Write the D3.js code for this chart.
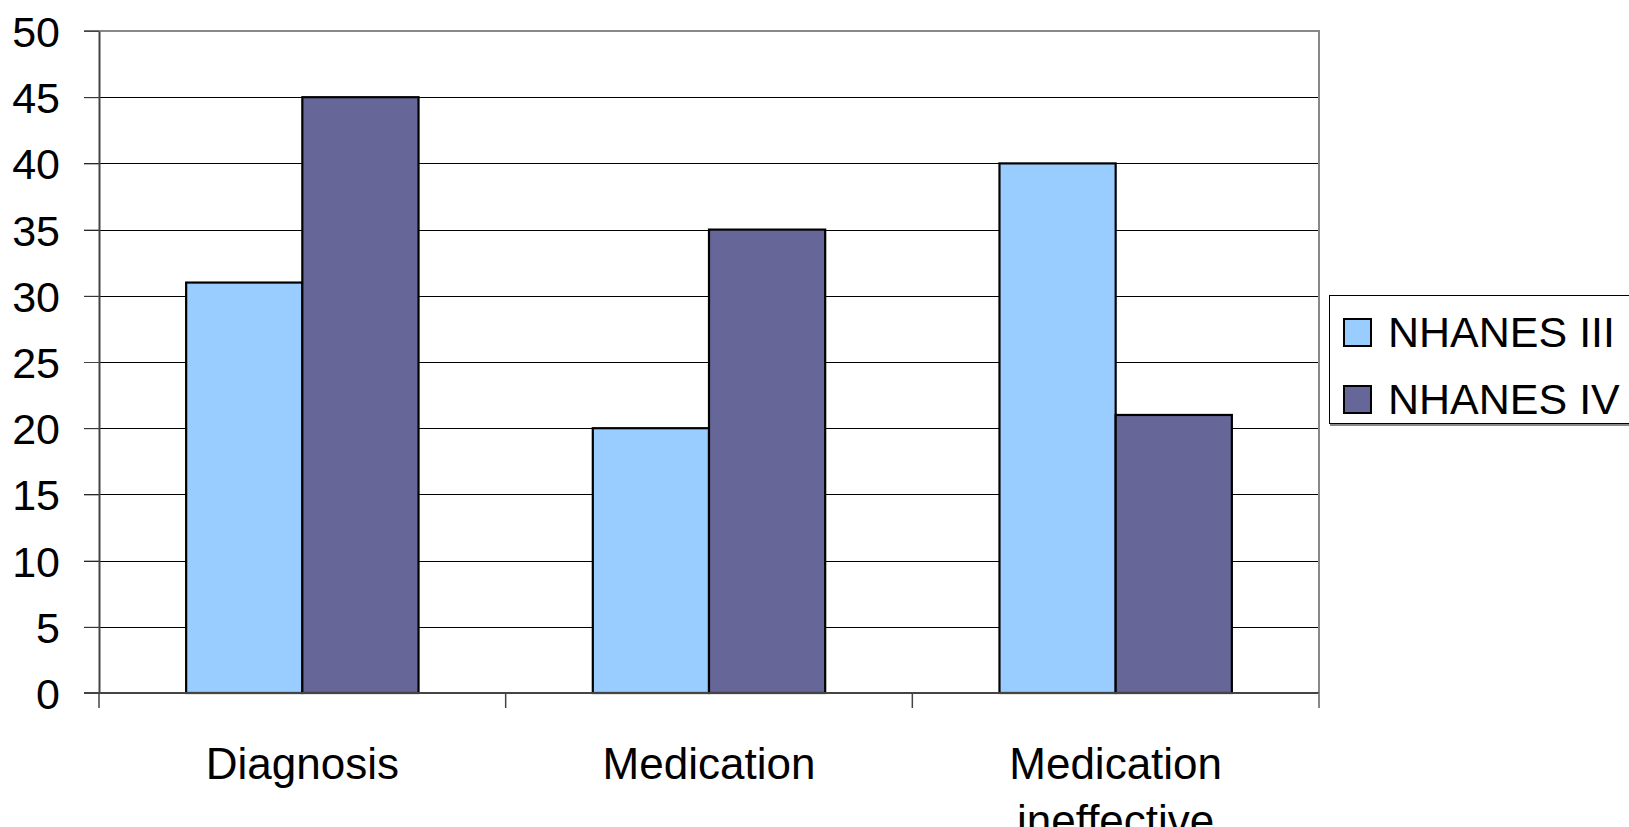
<!DOCTYPE html>
<html>
<head>
<meta charset="utf-8">
<script src="https://cdn.jsdelivr.net/npm/d3@7"></script>
<style>
  html, body { margin: 0; padding: 0; background: #fff; overflow: hidden; }
  svg { display: block; font-family: "Liberation Sans", Arial, sans-serif; }
</style>
</head>
<body>
<svg id="chart" width="1629" height="827"></svg>
<script>
// Chart data
const categories = [["Diagnosis"], ["Medication"], ["Medication", "ineffective"]];
const seriesNames = ["NHANES III", "NHANES IV"];
const seriesColors = ["#99CCFF", "#666699"];
const nhanes3 = [31, 20, 40];
const nhanes4 = [45, 35, 21];
const yTicks = [0, 5, 10, 15, 20, 25, 30, 35, 40, 45, 50];

const seriesValues = [nhanes3, nhanes4];
const svg = d3.select("#chart");

const plot = { left: 99, right: 1319, top: 31, bottom: 693 };

const x = d3.scaleBand()
  .domain(d3.range(categories.length))
  .range([plot.left, plot.right])
  .padding(0);

const xInner = d3.scaleBand()
  .domain(d3.range(seriesNames.length))
  .range([0, x.bandwidth()])
  .paddingInner(0)
  .paddingOuter(0.75);

const y = d3.scaleLinear().domain([0, 50]).range([plot.bottom, plot.top]);

// Horizontal gridlines with ticks extending left of the axis
svg.append("g")
  .selectAll("line")
  .data(yTicks.filter(t => t > 0 && t < 50))
  .join("line")
  .attr("x1", plot.left - 15)
  .attr("x2", plot.right)
  .attr("y1", d => Math.round(y(d)) + 0.5)
  .attr("y2", d => Math.round(y(d)) + 0.5)
  .attr("stroke", "#000")
  .attr("stroke-width", 1);

// Top and right plot frame
svg.append("line")
  .attr("x1", plot.left).attr("x2", plot.right + 1)
  .attr("y1", plot.top).attr("y2", plot.top)
  .attr("stroke", "#888").attr("stroke-width", 2);
svg.append("line")
  .attr("x1", plot.right).attr("x2", plot.right)
  .attr("y1", plot.top).attr("y2", plot.bottom + 15)
  .attr("stroke", "#888").attr("stroke-width", 2);
// tick for 50
svg.append("line")
  .attr("x1", plot.left - 15).attr("x2", plot.left)
  .attr("y1", plot.top).attr("y2", plot.top)
  .attr("stroke", "#444").attr("stroke-width", 1.5);

// Bars
const groups = svg.append("g")
  .selectAll("g")
  .data(categories.map((c, i) => i))
  .join("g")
  .attr("transform", i => `translate(${x(i)},0)`);

groups.selectAll("rect")
  .data(i => seriesValues.map((vals, s) => ({ s, v: vals[i] })))
  .join("rect")
  .attr("x", d => xInner(d.s))
  .attr("width", xInner.bandwidth())
  .attr("y", d => y(d.v))
  .attr("height", d => y(0) - y(d.v))
  .attr("fill", d => seriesColors[d.s])
  .attr("stroke", "#000")
  .attr("stroke-width", 2.2);

// Y axis
const yAxis = d3.axisLeft(y).tickValues(yTicks).tickSize(15).tickSizeOuter(0).tickPadding(24);
const yg = svg.append("g").attr("transform", `translate(${plot.left},0)`).call(yAxis);
yg.select(".domain").attr("stroke", "#444").attr("stroke-width", 2);
yg.selectAll(".tick line").attr("stroke", "#444");
yg.selectAll(".tick text")
  .attr("font-size", 43)
  .attr("fill", "#000")
  .attr("font-family", "'Liberation Sans', Arial, sans-serif")
  .attr("dy", "0.36em");

// X axis baseline and category boundary ticks
const xEdges = d3.range(categories.length + 1).map(i => i < categories.length ? x(i) : x(categories.length - 1) + x.bandwidth());
svg.append("line")
  .attr("x1", plot.left - 15).attr("x2", plot.right)
  .attr("y1", plot.bottom).attr("y2", plot.bottom)
  .attr("stroke", "#444").attr("stroke-width", 2);
svg.append("g")
  .selectAll("line")
  .data(xEdges)
  .join("line")
  .attr("x1", d => d).attr("x2", d => d)
  .attr("y1", plot.bottom).attr("y2", plot.bottom + 15)
  .attr("stroke", (d, i) => i === xEdges.length - 1 ? "#888" : "#444")
  .attr("stroke-width", 1.5);

// Category labels (the second line of the last one runs past the bottom edge)
const labels = svg.append("g")
  .selectAll("text")
  .data(categories.map((c, i) => ({ c, i })))
  .join("text")
  .attr("x", d => x(d.i) + x.bandwidth() / 2)
  .attr("y", 779)
  .attr("text-anchor", "middle")
  .attr("font-size", 44)
  .attr("fill", "#000");
labels.selectAll("tspan")
  .data(d => d.c.map((line, k) => ({ line, k, cx: x(d.i) + x.bandwidth() / 2 })))
  .join("tspan")
  .attr("x", d => d.cx)
  .attr("dy", d => d.k === 0 ? 0 : 57)
  .text(d => d.line);

// Legend
const legend = svg.append("g");
legend.append("rect")
  .attr("x", 1329.5).attr("y", 295.5)
  .attr("width", 320).attr("height", 128)
  .attr("fill", "#fff")
  .attr("stroke", "#000").attr("stroke-width", 1);
legend.append("line")
  .attr("x1", 1330).attr("x2", 1629)
  .attr("y1", 425).attr("y2", 425)
  .attr("stroke", "#888").attr("stroke-width", 2);

const items = legend.selectAll("g.item")
  .data(seriesNames.map((n, i) => ({ n, i })))
  .join("g")
  .attr("class", "item")
  .attr("transform", d => `translate(0,${d.i * 67})`);
items.append("rect")
  .attr("x", 1344).attr("y", 319)
  .attr("width", 27).attr("height", 27)
  .attr("fill", d => seriesColors[d.i])
  .attr("stroke", "#000").attr("stroke-width", 2);
items.append("text")
  .attr("x", 1388).attr("y", 347)
  .attr("font-size", 43)
  .attr("fill", "#000")
  .text(d => d.n);
</script>
</body>
</html>
